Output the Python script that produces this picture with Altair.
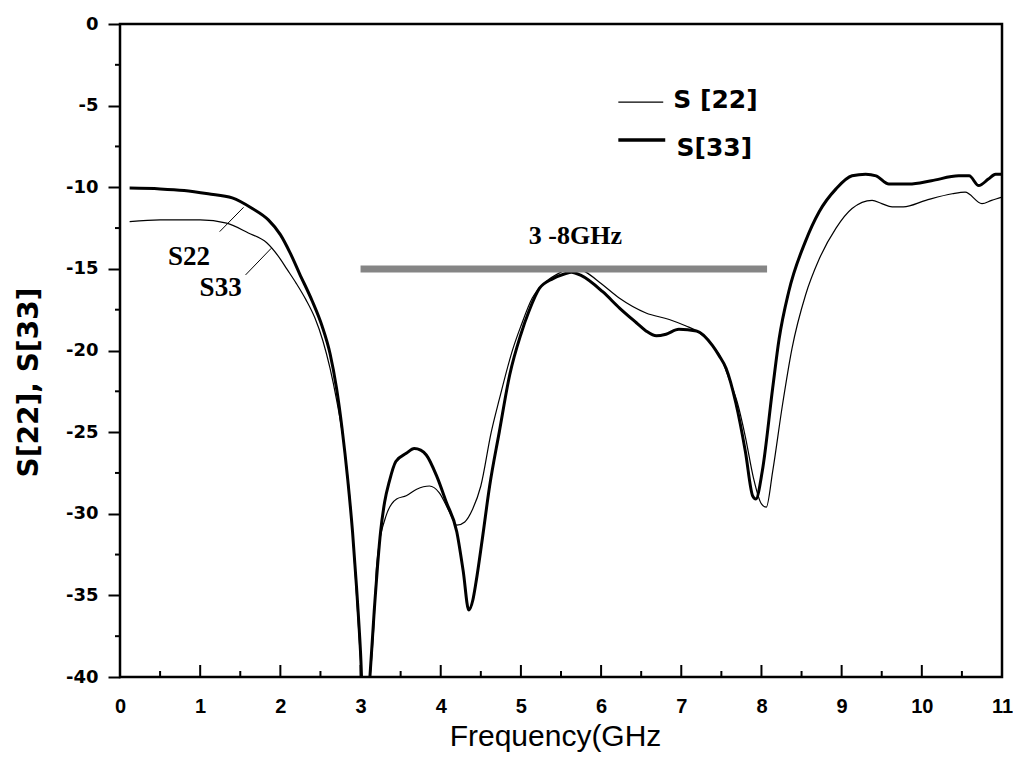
import altair as alt
import pandas as pd

# ---- data ----
s22_freq = [0.12, 0.5, 1.0, 1.33, 1.6, 1.83, 2.0, 2.08, 2.2, 2.32, 2.43, 2.53, 2.62, 2.7, 2.78, 2.85, 2.9, 2.95, 3.0,
            3.05, 3.11, 3.17, 3.2, 3.32, 3.45, 3.57, 3.7, 3.86, 3.98, 4.11, 4.2, 4.3, 4.4, 4.5, 4.63, 4.73,
            4.9, 5.0, 5.14, 5.31, 5.5, 5.65, 5.81, 6.0, 6.23, 6.56, 6.85, 7.06, 7.19, 7.39, 7.5, 7.6, 7.7,
            7.8, 7.9, 8.0, 8.06, 8.14, 8.26, 8.38, 8.55, 8.72, 8.93, 9.13, 9.38, 9.5, 9.63, 9.77, 10.05,
            10.38, 10.54, 10.75, 10.87, 11.0]
s22_db = [-12.1, -12.0, -12.0, -12.2, -12.8, -13.4, -14.4, -15.0, -15.9, -16.9, -18.0, -19.4, -21.1, -23.0, -25.3,
          -28.2, -31.1, -35.0, -39.0, -43.0, -40.5, -36.5, -33.2, -30.1, -29.1, -28.9, -28.5, -28.3, -28.7,
          -29.9, -30.7, -30.5, -29.7, -28.3, -25.0, -23.0, -19.9, -18.5, -16.8, -15.8, -15.2, -14.9, -15.2,
          -15.9, -16.8, -17.7, -18.1, -18.5, -18.8, -19.7, -20.5, -21.8, -23.2, -25.3, -27.8, -29.4, -29.6,
          -27.4, -23.4, -19.9, -16.6, -14.4, -12.5, -11.3, -10.8, -11.0, -11.2, -11.2, -10.8, -10.4, -10.3,
          -11.0, -10.8, -10.6]

s33_freq = [0.12, 0.5, 0.8, 1.1, 1.4, 1.65, 1.85, 2.0, 2.12, 2.24, 2.4, 2.52, 2.62, 2.7, 2.77, 2.84,
            2.9, 2.95, 3.0, 3.05, 3.11, 3.17, 3.25, 3.3, 3.36, 3.44, 3.57, 3.67, 3.75, 3.82, 3.95, 4.07, 4.2,
            4.28, 4.35, 4.4, 4.44, 4.52, 4.61, 4.73, 4.86, 5.0, 5.1, 5.23, 5.4, 5.55, 5.63, 5.75, 6.02, 6.23,
            6.44, 6.56, 6.69, 6.81, 6.97, 7.19, 7.39, 7.47, 7.56, 7.68, 7.8, 7.89, 7.93, 8.01, 8.14, 8.22,
            8.34, 8.55, 8.72, 8.93, 9.13, 9.3, 9.43, 9.59, 9.84, 10.12, 10.46, 10.59, 10.71, 10.83, 10.92, 11.0]
s33_db = [-10.05, -10.1, -10.2, -10.4, -10.65, -11.3, -12.0, -12.9, -14.0, -15.3, -17.0, -18.5, -20.2,
          -22.3, -24.8, -27.9, -31.1, -34.5, -38.5, -44.0, -40.5, -36.0, -31.1, -29.3, -28.0, -26.8, -26.3,
          -26.0, -26.1, -26.4, -27.7, -29.3, -31.1, -33.5, -35.9, -35.3, -34.2, -31.5, -28.3, -25.0, -21.5,
          -19.0, -17.6, -16.2, -15.6, -15.3, -15.2, -15.4, -16.4, -17.4, -18.3, -18.8, -19.1, -19.0, -18.7,
          -18.8, -19.7, -20.3, -21.1, -23.2, -26.2, -28.9, -29.1, -27.4, -22.3, -19.3, -16.4, -13.3, -11.5,
          -10.1, -9.3, -9.2, -9.3, -9.8, -9.8, -9.6, -9.3, -9.3, -9.9, -9.5, -9.2, -9.2]

x_major = list(range(0, 12))
x_minor = [i + 0.5 for i in range(11)]
y_major = [0, -5, -10, -15, -20, -25, -30, -35, -40]
y_minor = [-2.5, -7.5, -12.5, -17.5, -22.5, -27.5, -32.5, -37.5]

band_start, band_end, band_level = [3.0], [8.07], [-15.0]
band_label = ["3 -8GHz"]
band_label_pos = [(5.68, -13.0)]

curve_labels = ["S22", "S33"]
curve_label_pos = [(0.86, -14.3), (1.255, -16.15)]
leader_from = [(1.243, -12.72), (1.566, -15.37)]
leader_to = [(1.541, -11.23), (1.886, -13.74)]

legend_names = ["S [22]", "S[33]"]
legend_line_x = [(6.215, 6.775), (6.215, 6.8)]
legend_line_y = [-4.78, -7.1]
legend_text_pos = [(6.9, -4.65), (6.94, -7.6)]
legend_widths = [1.3, 3.5]

# ---- tables ----
df22 = pd.DataFrame({"f": s22_freq, "v": s22_db})
df33 = pd.DataFrame({"f": s33_freq, "v": s33_db})

xs = alt.Scale(domain=[0, 11], nice=False, zero=False)
ys = alt.Scale(domain=[-40, 0], nice=False, zero=False)

x_axis = alt.Axis(values=x_major, ticks=False, domain=False, grid=False, labelPadding=19,
                  labelFlush=False, labelOverlap=False, labelExpr="toString(datum.value)",
                  labelFont="Liberation Sans", labelFontWeight="bold", labelFontSize=20, labelColor="black",
                  title="Frequency(GHz", titleFont="Liberation Sans", titleFontWeight="normal",
                  titleFontSize=30, titleColor="black", titleX=435, titleY=68, titleBaseline="alphabetic")
y_axis = alt.Axis(values=y_major, tickSize=12, tickWidth=2, tickColor="black", domain=False, grid=False,
                  labelPadding=10, labelFlush=False, labelOverlap=False, labelExpr="toString(datum.value)",
                  labelFont="DejaVu Sans", labelFontWeight="bold", labelFontSize=18,
                  labelColor="black", title="S[22], S[33]", titleFont="DejaVu Sans", titleFontWeight="bold",
                  titleFontSize=28, titleColor="black", titleX=-83, titleY=358, titleAngle=270,
                  titleBaseline="alphabetic", titleAlign="center")


def X(field):
    return alt.X(field, scale=xs, axis=x_axis)


def Y(field):
    return alt.Y(field, scale=ys, axis=y_axis)


thin = alt.Chart(df22).mark_line(color="black", strokeWidth=1.2, clip=True, interpolate="monotone").encode(
    x=X("f:Q"), y=Y("v:Q"), order="f:Q")
thick = alt.Chart(df33).mark_line(color="black", strokeWidth=3, clip=True, interpolate="monotone").encode(
    x=X("f:Q"), y=Y("v:Q"), order="f:Q")

band_df = pd.DataFrame({"a": band_start, "b": band_end, "y": band_level})
band = alt.Chart(band_df).mark_rule(color="#858585", strokeWidth=7).encode(
    x=X("a:Q"), x2="b:Q", y=Y("y:Q"))

band_txt_df = pd.DataFrame({"t": band_label, "x": [p[0] for p in band_label_pos],
                            "y": [p[1] for p in band_label_pos]})
band_txt = alt.Chart(band_txt_df).mark_text(font="Liberation Serif", fontWeight="bold", fontSize=26,
                                            color="black", align="center", baseline="middle").encode(
    x=X("x:Q"), y=Y("y:Q"), text="t:N")

cl_df = pd.DataFrame({"t": curve_labels, "x": [p[0] for p in curve_label_pos],
                      "y": [p[1] for p in curve_label_pos]})
cl_txt = alt.Chart(cl_df).mark_text(font="Liberation Serif", fontWeight="bold", fontSize=27,
                                    color="black", align="center", baseline="middle").encode(
    x=X("x:Q"), y=Y("y:Q"), text="t:N")

lead_df = pd.DataFrame({"x": [p[0] for p in leader_from], "y": [p[1] for p in leader_from],
                        "x2": [p[0] for p in leader_to], "y2": [p[1] for p in leader_to]})
leads = alt.Chart(lead_df).mark_rule(color="black", strokeWidth=1).encode(
    x=X("x:Q"), y=Y("y:Q"), x2="x2:Q", y2="y2:Q")

leg_line_df = pd.DataFrame({"x": [p[0] for p in legend_line_x], "x2": [p[1] for p in legend_line_x],
                            "y": legend_line_y, "w": legend_widths, "k": legend_names})
leg_lines = alt.Chart(leg_line_df).mark_rule(color="black").encode(
    x=X("x:Q"), x2="x2:Q", y=Y("y:Q"),
    strokeWidth=alt.StrokeWidth("w:Q", scale=None, legend=None))

leg_txt_df = pd.DataFrame({"t": legend_names, "x": [p[0] for p in legend_text_pos],
                           "y": [p[1] for p in legend_text_pos]})
leg_txt = alt.Chart(leg_txt_df).mark_text(font="DejaVu Sans", fontWeight="bold", fontSize=25,
                                          color="black", align="left", baseline="middle").encode(
    x=X("x:Q"), y=Y("y:Q"), text="t:N")

# axis decorations: inward x ticks, outward minor y ticks
xmaj = alt.Chart(pd.DataFrame({"x": x_major})).mark_rule(color="black", strokeWidth=2).encode(
    x=X("x:Q"), y=alt.value(653), y2=alt.value(641))
xmin = alt.Chart(pd.DataFrame({"x": x_minor})).mark_rule(color="black", strokeWidth=2).encode(
    x=X("x:Q"), y=alt.value(653), y2=alt.value(647))
ymin = alt.Chart(pd.DataFrame({"y": y_minor})).mark_rule(color="black", strokeWidth=2).encode(
    y=Y("y:Q"), x=alt.value(-5), x2=alt.value(0))

chart = alt.layer(thin, thick, band, band_txt, cl_txt, leads, leg_lines, leg_txt, xmaj, xmin, ymin).properties(
    width=882, height=653,
    autosize=alt.AutoSizeParams(type="none"),
    padding={"left": 112, "top": 16, "right": 11, "bottom": 76},
    background="white",
).configure_view(stroke="black", strokeWidth=2.5)

chart.save("out.html", embed_options={"renderer": "svg", "actions": False})
